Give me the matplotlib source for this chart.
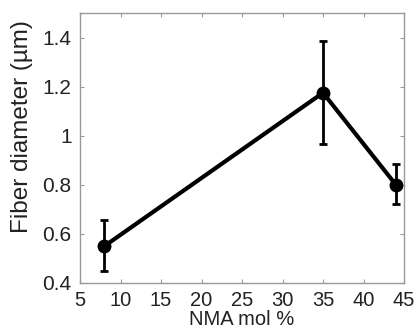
import matplotlib
matplotlib.use("Agg")
import matplotlib.pyplot as plt

plt.rcParams['font.family'] = ['Liberation Sans', 'DejaVu Sans']

nma = [8, 35, 44]
diameter = [0.55, 1.175, 0.80]
err_low = [0.10, 0.21, 0.08]
err_high = [0.105, 0.21, 0.085]

fig = plt.figure(figsize=(4.17, 3.33), dpi=100)
ax = fig.add_axes([80 / 417, 50 / 333, 324 / 417, 270 / 333])

ax.errorbar(nma, diameter, yerr=[err_low, err_high], color='black', lw=3,
            marker='o', ms=9, elinewidth=2, capsize=3, capthick=2)

ax.set_xlim(5, 45)
ax.set_ylim(0.4, 1.5)
ax.set_xticks(range(5, 46, 5))
ax.set_yticks([0.4, 0.6, 0.8, 1, 1.2, 1.4])
ax.set_yticklabels(['0.4', '0.6', '0.8', '1', '1.2', '1.4'])
ax.tick_params(direction='in', length=3, color='#999999',
               labelcolor='#222222', top=True, right=True)
ax.tick_params(axis='x', pad=6, labelsize=14.5)
ax.tick_params(axis='y', pad=6, labelsize=15)
for s in ax.spines.values():
    s.set_color('#999999')
    s.set_linewidth(1)

ax.set_xlabel('NMA mol %', fontsize=14.5, labelpad=0, color='#222222')
ax.set_ylabel('Fiber diameter (µm)', fontsize=17.5, color='#222222')
ax.yaxis.set_label_coords(-0.145, 0.58)

fig.savefig('out.png', dpi=100)
